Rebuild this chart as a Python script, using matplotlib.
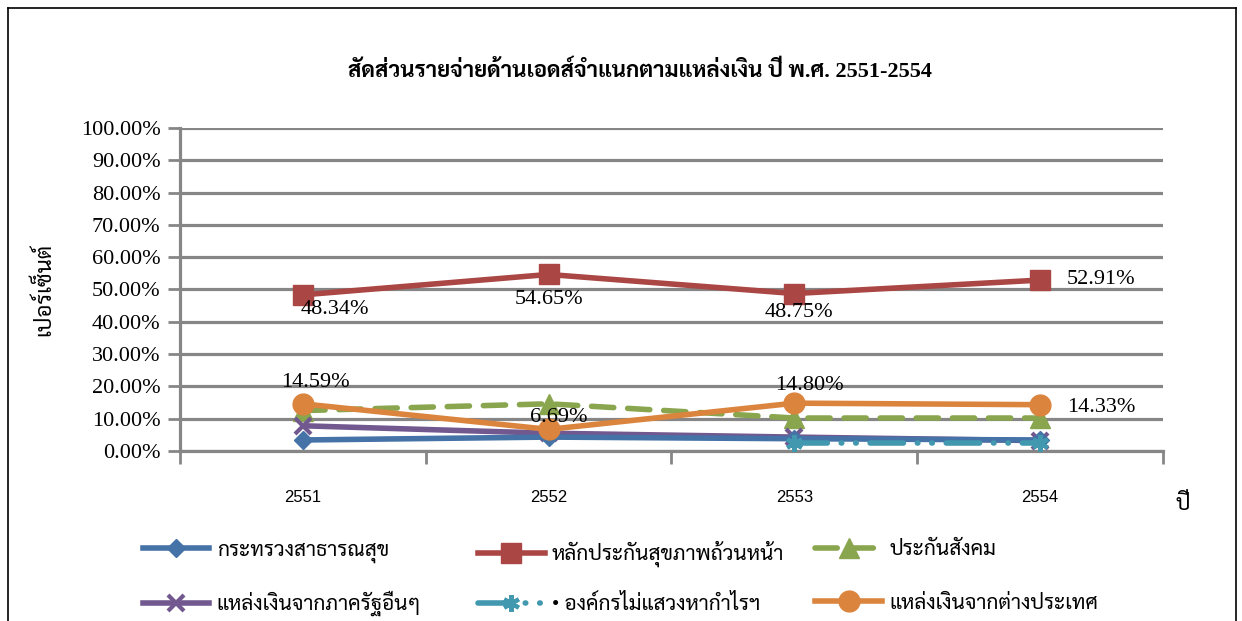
import matplotlib
matplotlib.use('Agg')
import matplotlib.pyplot as plt
from matplotlib.lines import Line2D
import numpy as np

# ข้อมูล
years = ['2551', '2552', '2553', '2554']
moph = [3.4, 4.3, 3.8, 3.4]                 # กระทรวงสาธารณสุข
uc = [48.34, 54.65, 48.75, 52.91]           # หลักประกันสุขภาพถ้วนหน้า
sso = [12.5, 14.6, 10.2, 10.2]              # ประกันสังคม
gov_other = [7.8, 5.5, 4.3, 3.2]            # แหล่งเงินจากภาครัฐอื่นๆ
ngo = [np.nan, np.nan, 2.5, 2.5]            # องค์กรไม่แสวงหากำไร
foreign = [14.59, 6.69, 14.80, 14.33]       # แหล่งเงินจากต่างประเทศ

names = ['กระทรวงสาธารณสุข', 'หลักประกันสุขภาพถ้วนหน้า', 'ประกันสังคม',
         'แหล่งเงินจากภาครัฐอื่นๆ', '• องค์กรไม่แสวงหากำไรฯ', 'แหล่งเงินจากต่างประเทศ']

thai = ['Liberation Serif', 'Sarabun', 'Taviraj', 'Athiti']
serif = ['Liberation Serif', 'DejaVu Serif']

fig = plt.figure(figsize=(12.42, 6.21), dpi=100)
ax = fig.add_axes([0.1449, 0.2738, 0.7915, 0.5201])

x = np.arange(len(years))
grey = '#868686'

l_moph, = ax.plot(x, moph, color='#4572A7', lw=4, marker='D', ms=9, zorder=4)
l_uc, = ax.plot(x, uc, color='#AA4643', lw=4, marker='s', ms=15, zorder=4)
l_sso, = ax.plot(x, sso, color='#89A54E', lw=4, ls=(0, (4, 2.5)), marker='^', ms=15,
                 dash_capstyle='round', zorder=3)
l_gov, = ax.plot(x, gov_other, color='#71588F', lw=4, marker='x', ms=11, mew=3, zorder=3)
l_ngo, = ax.plot(x, ngo, color='#4198AF', lw=4, ls=(0, (6, 2.5, 0.1, 2.5, 0.1, 2.5)),
                 dash_capstyle='round', marker=(6, 2, 0), ms=12, mew=3, zorder=4)
l_for, = ax.plot(x, foreign, color='#DB843D', lw=4, marker='o', ms=15, zorder=5)

# ป้ายค่าข้อมูล
lab = dict(fontsize=16, family=serif, color='black', zorder=6)
ax.text(-0.01, uc[0] - 4.4, f'{uc[0]:.2f}%', ha='left', va='center', **lab)
ax.text(1, uc[1] - 7.8, f'{uc[1]:.2f}%', ha='center', va='center', **lab)
ax.text(2.02, uc[2] - 6.0, f'{uc[2]:.2f}%', ha='center', va='center', **lab)
ax.text(3.11, uc[3] + 0.1, f'{uc[3]:.2f}%', ha='left', va='center', **lab)
ax.text(0.05, foreign[0] + 6.6, f'{foreign[0]:.2f}%', ha='center', va='center', **lab)
ax.text(1.04, foreign[1] + 3.6, f'{foreign[1]:.2f}%', ha='center', va='center', **lab)
ax.text(2.06, foreign[2] + 5.5, f'{foreign[2]:.2f}%', ha='center', va='center', **lab)
ax.text(3.11, foreign[3] - 0.8, f'{foreign[3]:.2f}%', ha='left', va='center', **lab)

ax.set_xlim(-0.5, 3.5)
ax.set_ylim(0, 100)
ax.set_yticks(np.arange(0, 101, 10))
ax.set_yticklabels([f'{v:.2f}%' for v in range(0, 101, 10)], fontsize=16, family=serif)
ax.yaxis.grid(True, color=grey, lw=2.3)
ax.set_axisbelow(True)
ax.tick_params(axis='y', length=9, width=2, color=grey, pad=5)

ax.set_xticks(x)
ax.set_xticklabels(years, fontsize=12, family='Liberation Sans')
ax.set_xticks(np.arange(-0.5, 3.6, 1), minor=True)
ax.tick_params(axis='x', which='major', length=0, pad=28)
ax.tick_params(axis='x', which='minor', length=9, width=2, color=grey)

for s in ['top', 'right', 'bottom']:
    ax.spines[s].set_visible(False)
ax.spines['left'].set_color(grey)
ax.spines['left'].set_linewidth(2.3)
ax.axhline(0, color=grey, lw=2.3, zorder=1, clip_on=False)

ax.set_ylabel('เปอร์เซ็นต์', fontsize=16, family=thai)
ax.yaxis.set_label_coords(-0.127, 0.5)
fig.text(0.952, 0.187, 'ปี', fontsize=16, family=thai, ha='center', va='center')

fig.text(0.515, 0.885, 'สัดส่วนรายจ่ายด้านเอดส์จำแนกตามแหล่งเงิน ปี พ.ศ. 2551-2554',
         fontsize=16, family=thai, weight='bold', ha='center', va='center')

# คำอธิบายสัญลักษณ์: สามคอลัมน์ คอลัมน์ละสองรายการ
cols = [([l_moph, l_gov], [names[0], names[3]], 0.1065, 1.36),
        ([l_uc, l_ngo], [names[1], names[4]], 0.3765, 1.36),
        ([l_sso, l_for], [names[2], names[5]], 0.648, 1.62)]
for hs, ls, x0, sp in cols:
    leg = fig.legend(hs, ls, loc='upper left', bbox_to_anchor=(x0, 0.146),
                     frameon=False, handlelength=3.2, handletextpad=0.35,
                     labelspacing=sp, borderpad=0, prop={'family': thai, 'size': 15})

# กรอบรอบแผนภูมิ
for xs, ys in [([0.0064, 0.0064], [0, 0.987]), ([0.0064, 0.9952], [0.987, 0.987]),
               ([0.9952, 0.9952], [0, 0.987])]:
    fig.add_artist(Line2D(xs, ys, color='black', lw=1.2, transform=fig.transFigure))

fig.savefig('out.png', dpi=100)
